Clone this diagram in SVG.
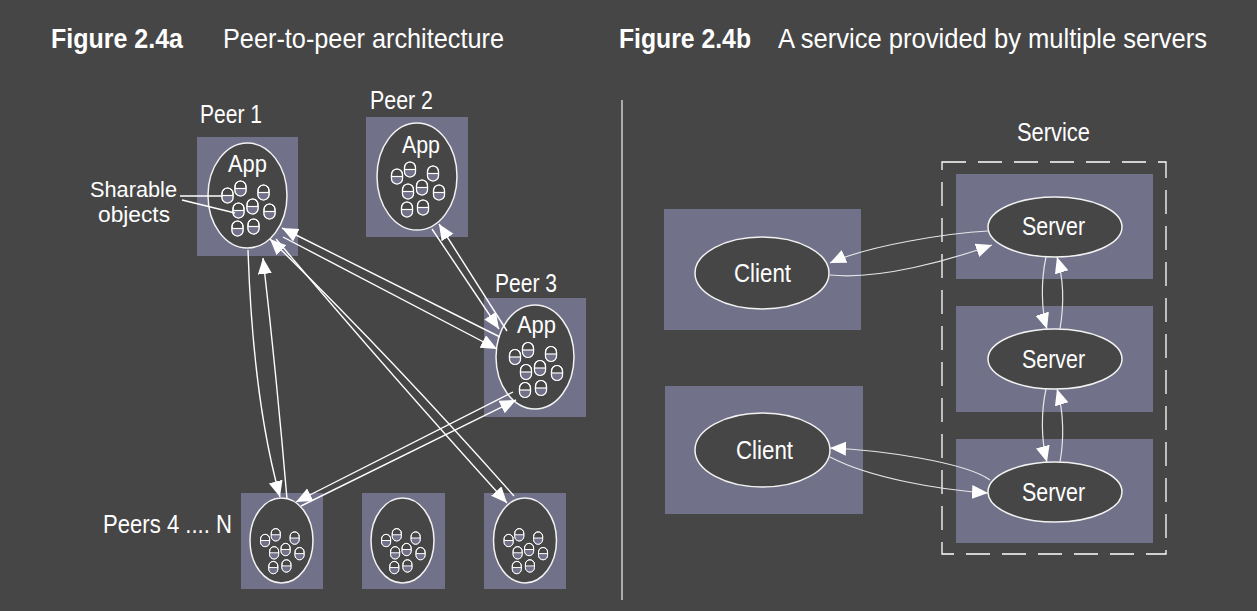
<svg xmlns="http://www.w3.org/2000/svg" xmlns:xlink="http://www.w3.org/1999/xlink" width="1257" height="611" viewBox="0 0 1257 611">
<style>
.bg{fill:#464646}
.box{fill:#717189}
.ell{fill:#464646;stroke:#f2f2f2;stroke-width:1.5}
.t{font-family:"Liberation Sans",Arial,sans-serif;fill:#ffffff}
.lbl{font-size:25px}
.ttl{font-size:28px}
.b{font-weight:bold}
.c{stroke:#ffffff;stroke-width:1.4;fill:none;marker-end:url(#ah)}
.c2{stroke:#e6e6e6;stroke-width:1.2;fill:none;marker-end:url(#ah)}
.cap{fill:#464646;stroke:#ffffff;stroke-width:1.2}
</style>
<defs>
<marker id="ah" markerUnits="userSpaceOnUse" markerWidth="17" markerHeight="15" refX="16" refY="7" orient="auto" viewBox="0 0 17 15">
<path d="M0,0 L16,7 L0,14 Z" fill="#ffffff"/>
</marker>
<g id="capsule">
<rect class="cap" x="-5.5" y="-7.5" width="11" height="15" rx="5.5"/>
<path d="M-5.5,0 L5.5,0 L5.5,2 A5.5,5.5 0 0 1 -5.5,2 Z" fill="#717189"/>
<rect x="-5.5" y="-7.5" width="11" height="15" rx="5.5" fill="none" stroke="#ffffff" stroke-width="1.2"/>
<line x1="-5.5" y1="0" x2="5.5" y2="0" stroke="#ffffff" stroke-width="1.2"/>
</g>
<g id="objs">
<use xlink:href="#capsule" x="-20" y="0"/>
<use xlink:href="#capsule" x="-7" y="-7"/>
<use xlink:href="#capsule" x="16" y="-3"/>
<use xlink:href="#capsule" x="-9" y="15"/>
<use xlink:href="#capsule" x="5" y="11"/>
<use xlink:href="#capsule" x="22" y="16"/>
<use xlink:href="#capsule" x="-10" y="33"/>
<use xlink:href="#capsule" x="6" y="31"/>
</g>
</defs>
<rect class="bg" x="0" y="0" width="1257" height="611"/>

<g id="titles">
<text class="t ttl b" x="51" y="48" textLength="132" lengthAdjust="spacingAndGlyphs">Figure 2.4a</text>
<text class="t ttl" x="223" y="48" textLength="281" lengthAdjust="spacingAndGlyphs">Peer-to-peer architecture</text>
<text class="t ttl b" x="619" y="48" textLength="132" lengthAdjust="spacingAndGlyphs">Figure 2.4b</text>
<text class="t ttl" x="778" y="48" textLength="429" lengthAdjust="spacingAndGlyphs">A service provided by multiple servers</text>
</g>

<line id="divider" x1="622" y1="100" x2="622" y2="600" stroke="#cfcfcf" stroke-width="1.5"/>

<g id="peer1">
<text class="t lbl" x="200" y="123" textLength="62" lengthAdjust="spacingAndGlyphs">Peer 1</text>
<rect class="box" x="197" y="137" width="101" height="119"/>
<ellipse class="ell" cx="247.5" cy="195.5" rx="39.5" ry="52.5"/>
<text class="t" font-size="24" x="228" y="172" textLength="39" lengthAdjust="spacingAndGlyphs">App</text>
<use xlink:href="#objs" transform="translate(247.5,195.5)"/>
</g>

<g id="sharable-label">
<text class="t" font-size="22" x="90" y="197" textLength="87" lengthAdjust="spacingAndGlyphs">Sharable</text>
<text class="t" font-size="22" x="98" y="222" textLength="72" lengthAdjust="spacingAndGlyphs">objects</text>
<line x1="180" y1="196" x2="223" y2="196" stroke="#ffffff" stroke-width="1.4"/>
<line x1="182" y1="200" x2="235" y2="213" stroke="#ffffff" stroke-width="1.4"/>
</g>

<g id="peer2">
<text class="t lbl" x="370" y="109" textLength="63" lengthAdjust="spacingAndGlyphs">Peer 2</text>
<rect class="box" x="366" y="117" width="102" height="120"/>
<ellipse class="ell" cx="417" cy="176.5" rx="40" ry="53.5"/>
<text class="t" font-size="24" x="402" y="153" textLength="38" lengthAdjust="spacingAndGlyphs">App</text>
<use xlink:href="#objs" transform="translate(417,176.5)"/>
</g>

<g id="peer3">
<text class="t lbl" x="495" y="292" textLength="62" lengthAdjust="spacingAndGlyphs">Peer 3</text>
<rect class="box" x="484" y="298" width="102" height="119"/>
<ellipse class="ell" cx="535" cy="357" rx="39" ry="52"/>
<text class="t" font-size="24" x="517" y="333" textLength="39" lengthAdjust="spacingAndGlyphs">App</text>
<use xlink:href="#objs" transform="translate(535,357)"/>
</g>

<g id="peers4">
<text class="t lbl" x="103" y="533" textLength="129" lengthAdjust="spacingAndGlyphs">Peers 4 .... N</text>
<rect class="box" x="241" y="493" width="82" height="96"/>
<ellipse class="ell" cx="281.5" cy="540.5" rx="31.5" ry="42.5"/>
<use xlink:href="#objs" transform="translate(281.5,540.5) scale(0.82)"/>
</g>

<g id="peer5">
<rect class="box" x="362" y="493" width="83" height="96"/>
<ellipse class="ell" cx="402.5" cy="540.5" rx="31.5" ry="42.5"/>
<use xlink:href="#objs" transform="translate(402.5,540.5) scale(0.82)"/>
</g>

<g id="peer6">
<rect class="box" x="484" y="493" width="82" height="96"/>
<ellipse class="ell" cx="525" cy="540.5" rx="31.5" ry="42.5"/>
<use xlink:href="#objs" transform="translate(525,540.5) scale(0.82)"/>
</g>

<g id="service">
<rect x="942" y="162" width="224" height="392" fill="none" stroke="#ffffff" stroke-width="1.3" stroke-dasharray="24 12"/>
<text class="t lbl" x="1017" y="141" textLength="73" lengthAdjust="spacingAndGlyphs">Service</text>
</g>

<g id="server1">
<rect class="box" x="956" y="174" width="197" height="105"/>
<ellipse class="ell" cx="1055" cy="227" rx="67" ry="30"/>
<text class="t" font-size="26" x="1022" y="235" textLength="63" lengthAdjust="spacingAndGlyphs">Server</text>
</g>
<g id="server2">
<rect class="box" x="956" y="306" width="197" height="106"/>
<ellipse class="ell" cx="1055" cy="359" rx="67" ry="30"/>
<text class="t" font-size="26" x="1022" y="368" textLength="63" lengthAdjust="spacingAndGlyphs">Server</text>
</g>
<g id="server3">
<rect class="box" x="956" y="439" width="197" height="104"/>
<ellipse class="ell" cx="1055" cy="492" rx="67" ry="30"/>
<text class="t" font-size="26" x="1022" y="501" textLength="63" lengthAdjust="spacingAndGlyphs">Server</text>
</g>
<g id="client1">
<rect class="box" x="664" y="209" width="197" height="121"/>
<ellipse class="ell" cx="762" cy="273" rx="67" ry="36"/>
<text class="t" font-size="26" x="734" y="282" textLength="57" lengthAdjust="spacingAndGlyphs">Client</text>
</g>
<g id="client2">
<rect class="box" x="665" y="386" width="198" height="128"/>
<ellipse class="ell" cx="762.5" cy="450" rx="67.5" ry="37"/>
<text class="t" font-size="26" x="736" y="459" textLength="57" lengthAdjust="spacingAndGlyphs">Client</text>
</g>

<g id="connectors">
<path class="c" d="M248,250 Q253,400 280,497"/>
<path class="c" d="M287,499 Q277,380 263,258"/>
<path class="c" d="M500,337 L282,228"/>
<path class="c" d="M283,237 L497,349"/>
<path class="c" d="M432,229 L499,329"/>
<path class="c" d="M507,331 L439,224"/>
<path class="c" d="M514,496 Q390,356 270,239"/>
<path class="c" d="M276,239 Q383,366 507,503"/>
<path class="c" d="M513,392 L296,502"/>
<path class="c" d="M301,506 L516,400"/>
<path class="c2" d="M988,231 C950,233 870,245 830,263"/>
<path class="c2" d="M830,275 C880,280 950,260 992,245"/>
<path class="c2" d="M990,480 C965,462 880,450 830,448"/>
<path class="c2" d="M830,457 C870,478 940,490 988,493"/>
<path class="c2" d="M1046,257 C1041,280 1041,310 1047,329"/>
<path class="c2" d="M1060,329 C1064,305 1064,280 1057,257"/>
<path class="c2" d="M1046,389 C1041,412 1041,440 1047,462"/>
<path class="c2" d="M1060,462 C1064,440 1064,412 1057,389"/>
</g>
</svg>
